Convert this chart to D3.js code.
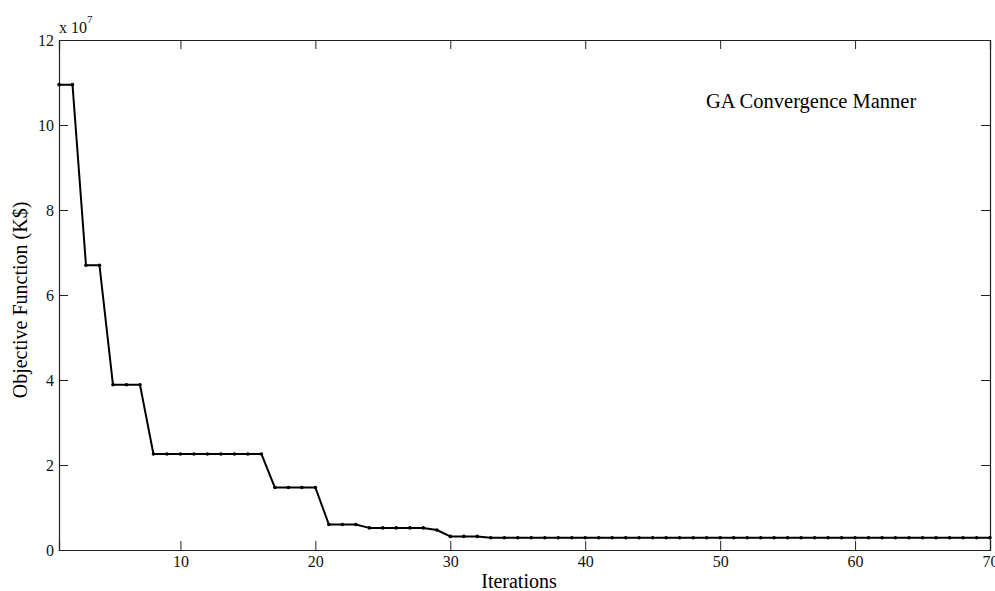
<!DOCTYPE html>
<html>
<head>
<meta charset="utf-8">
<script src="https://cdn.jsdelivr.net/npm/d3@7"></script>
<style>
  body { margin: 0; background: #fff; }
  svg { display: block; font-family: "Liberation Serif", "Times New Roman", serif; }
</style>
</head>
<body>
<svg id="chart" width="995" height="591"></svg>
<script>
// Data (objective in units of 1e7 K$)
const iterations = d3.range(1, 71);
const objective = [
  10.95, 10.95, 6.7, 6.7, 3.89, 3.89, 3.89,
  2.26, 2.26, 2.26, 2.26, 2.26, 2.26, 2.26, 2.26, 2.26,
  1.47, 1.47, 1.47, 1.47,
  0.6, 0.6, 0.6,
  0.52, 0.52, 0.52, 0.52, 0.52, 0.47,
  0.32, 0.32, 0.32,
  0.29, 0.29, 0.29, 0.29, 0.29, 0.29, 0.29, 0.29, 0.29, 0.29,
  0.29, 0.29, 0.29, 0.29, 0.29, 0.29, 0.29, 0.29, 0.29, 0.29,
  0.29, 0.29, 0.29, 0.29, 0.29, 0.29, 0.29, 0.29, 0.29, 0.29,
  0.29, 0.29, 0.29, 0.29, 0.29, 0.29, 0.29, 0.29
];
const xTicks = [10, 20, 30, 40, 50, 60, 70];
const yTicks = [0, 2, 4, 6, 8, 10, 12];

(function () {
  const svg = d3.select('#chart');
  const margin = { left: 59, right: 5, top: 40, bottom: 41 };
  const width = 995 - margin.left - margin.right;
  const height = 591 - margin.top - margin.bottom;

  const x = d3.scaleLinear().domain([1, 70]).range([0, width]);
  const y = d3.scaleLinear().domain([0, 12]).range([height, 0]);

  const g = svg.append('g').attr('transform', `translate(${margin.left},${margin.top})`);

  // axes, ticks pointing inward, box mirrored on top/right
  const tickLen = 9;
  const axBottom = g.append('g').attr('transform', `translate(0,${height})`)
    .call(d3.axisBottom(x).tickValues(xTicks).tickSize(-tickLen).tickPadding(6).tickFormat(d3.format('d')));
  const axLeft = g.append('g')
    .call(d3.axisLeft(y).tickValues(yTicks).tickSize(-tickLen).tickPadding(5).tickFormat(d3.format('d')));
  const axTop = g.append('g')
    .call(d3.axisTop(x).tickValues(xTicks).tickSize(-tickLen).tickFormat(''));
  const axRight = g.append('g').attr('transform', `translate(${width},0)`)
    .call(d3.axisRight(y).tickValues(yTicks).tickSize(-tickLen).tickFormat(''));

  [axBottom, axLeft, axTop, axRight].forEach(a => {
    a.select('.domain').attr('stroke', '#222').attr('stroke-width', 1.2);
    a.selectAll('.tick line').attr('stroke', '#222');
    a.selectAll('.tick text').attr('fill', '#111').style('font-size', '16px').style('font-family', '"Liberation Serif", serif');
  });

  // the convergence line
  const line = d3.line()
    .x((d, i) => x(iterations[i]))
    .y(d => y(d));

  g.append('path')
    .datum(objective)
    .attr('fill', 'none')
    .attr('stroke', '#000')
    .attr('stroke-width', 2)
    .attr('stroke-linejoin', 'round')
    .attr('d', line);

  g.append('g')
    .selectAll('circle')
    .data(objective)
    .enter()
    .append('circle')
    .attr('cx', (d, i) => x(iterations[i]))
    .attr('cy', d => y(d))
    .attr('r', 1.8)
    .attr('fill', '#000');

  // labels
  svg.append('text')
    .attr('x', 519)
    .attr('y', 588)
    .attr('text-anchor', 'middle')
    .style('font-size', '20px')
    .text('Iterations');

  svg.append('text')
    .attr('transform', 'translate(27,300) rotate(-90)')
    .attr('text-anchor', 'middle')
    .style('font-size', '20px')
    .text('Objective Function (K$)');

  const expo = svg.append('text')
    .attr('x', 59)
    .attr('y', 33)
    .style('font-size', '16px')
    .attr('fill', '#111');
  expo.append('tspan').text('x 10');
  expo.append('tspan').attr('dy', -10).style('font-size', '11px').text('7');

  svg.append('text')
    .attr('x', 706)
    .attr('y', 108)
    .style('font-size', '20.5px')
    .text('GA Convergence Manner');
})();
</script>
</body>
</html>
